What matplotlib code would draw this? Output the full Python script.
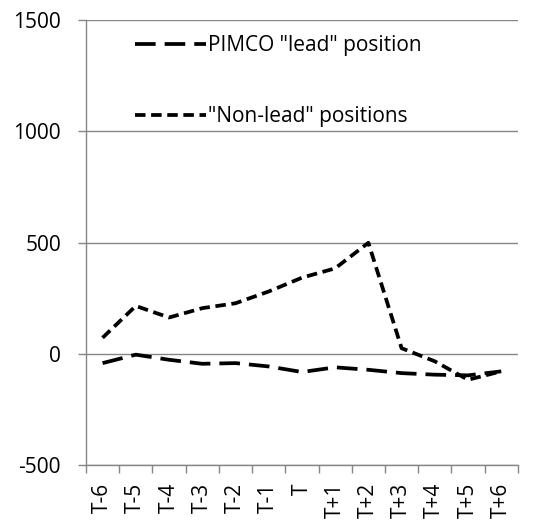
import matplotlib
matplotlib.use("Agg")
import matplotlib.pyplot as plt
import numpy as np

plt.rcParams['font.family'] = ['Open Sans', 'DejaVu Sans']
plt.rcParams['axes.unicode_minus'] = False

periods = ["T-6", "T-5", "T-4", "T-3", "T-2", "T-1", "T",
           "T+1", "T+2", "T+3", "T+4", "T+5", "T+6"]
lead = [-42, -4, -27, -45, -42, -57, -82, -61, -72, -87, -94, -97, -79]
non_lead = [72, 215, 163, 205, 227, 280, 342, 384, 499, 25, -34, -117, -79]

fig = plt.figure(figsize=(5.44, 5.29), dpi=100)
ax = fig.add_axes([0.158, 0.121, 0.794, 0.841])

x = np.arange(len(periods))
ax.plot(x, lead, color='black', lw=2.7, dashes=(5.5, 2.4), label='PIMCO "lead" position')
ax.plot(x, non_lead, color='black', lw=2.7, dashes=(2.8, 1.5), label='"Non-lead" positions')

ax.set_xlim(-0.5, len(periods) - 0.5)
ax.set_ylim(-500, 1500)
ax.set_yticks([-500, 0, 500, 1000, 1500])
ax.set_xticks(x)
ax.set_xticklabels(periods, rotation=90, fontsize=15)
ax.set_xticks(np.arange(len(periods) + 1) - 0.5, minor=True)
ax.tick_params(axis='x', which='major', length=0, pad=13)
ax.tick_params(axis='x', which='minor', length=6, color='#868686', width=1)
ax.tick_params(axis='y', length=6, color='#868686', width=1, labelsize=15, pad=12)

ax.grid(axis='y', color='#868686', lw=1)
ax.set_axisbelow(True)
for s in ['top', 'right']:
    ax.spines[s].set_visible(False)
for s in ['left', 'bottom']:
    ax.spines[s].set_color('#868686')
    ax.spines[s].set_linewidth(1)

ax.legend(loc='upper left', bbox_to_anchor=(0.07, 1.008), frameon=False,
          fontsize=15, handlelength=3.4, handletextpad=0.1, labelspacing=2.4)

fig.savefig("out.png", dpi=100)
